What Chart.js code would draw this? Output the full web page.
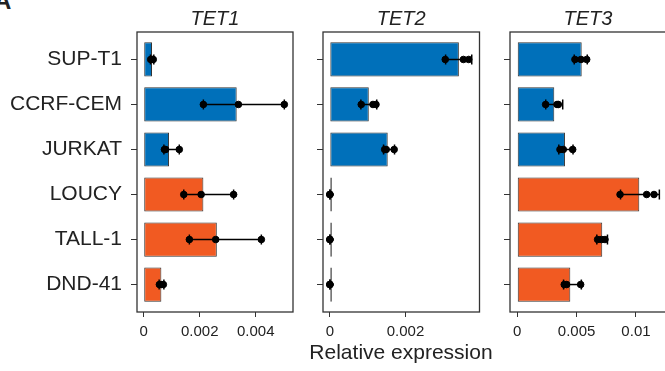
<!DOCTYPE html>
<html>
<head>
<meta charset="utf-8">
<script src="https://cdn.jsdelivr.net/npm/chart.js@4.4.1/dist/chart.umd.min.js"></script>
<style>
  html, body { margin: 0; padding: 0; background: #fff; }
  body { width: 665px; height: 371px; position: relative; overflow: hidden; }
  canvas { position: absolute; top: 0; }
  #panelLetter { position: absolute; left: -6px; top: -11px; font: bold 24px/1 "Liberation Sans", Arial, sans-serif; color: #222; }
  #xTitle { position: absolute; left: 251px; width: 300px; top: 341px; text-align: center; font: 21px/21px "Liberation Sans", Arial, sans-serif; color: #222; }
</style>
</head>
<body>
<div id="panelLetter">A</div>
<canvas id="tet1" width="300" height="371" style="left:0px"></canvas>
<canvas id="tet2" width="186" height="371" style="left:300px"></canvas>
<canvas id="tet3" width="190" height="371" style="left:486px"></canvas>
<div id="xTitle">Relative expression</div>
<script>
// cell lines, top to bottom
const cellLines = ['SUP-T1', 'CCRF-CEM', 'JURKAT', 'LOUCY', 'TALL-1', 'DND-41'];
const lineGroup = [0, 0, 0, 1, 1, 1];

// TET1 relative expression
const tet1Mean = [0.000296, 0.00332, 0.000904, 0.00213, 0.00261, 0.00063];
const tet1Lo = [0.00024, 0.00213, 0.00072, 0.00143, 0.00163, 0.00055];
const tet1Hi = [0.00036, 0.00502, 0.00127, 0.00321, 0.0042, 0.00072];
const tet1Reps = [[0.00025, 0.0003, 0.00034], [0.00213, 0.00338, 0.00502], [0.00074, 0.00078, 0.00127],
                  [0.00143, 0.00205, 0.00321], [0.00163, 0.00257, 0.0042], [0.00056, 0.00062, 0.0007]];
const tet1Ticks = [0, 0.002, 0.004];

// TET2
const tet2Mean = [0.00341, 0.00103, 0.00153, 0.000003, 0.000003, 0.000003];
const tet2Lo = [0.00306, 0.00082, 0.00142, 0, 0, 0];
const tet2Hi = [0.00375, 0.00124, 0.00171, 0.000006, 0.000006, 0.000006];
const tet2Reps = [[0.00305, 0.00353, 0.00367], [0.00083, 0.00114, 0.00122], [0.00145, 0.00149, 0.0017],
                  [0.000002, 0.000003, 0.000004], [0.000002, 0.000003, 0.000004], [0.000002, 0.000003, 0.000004]];
const tet2Ticks = [0, 0.002];

// TET3
const tet3Mean = [0.00543, 0.00312, 0.00402, 0.01028, 0.00716, 0.00447];
const tet3Lo = [0.0048, 0.0024, 0.0035, 0.0087, 0.0067, 0.0039];
const tet3Hi = [0.0059, 0.00383, 0.0047, 0.01197, 0.0076, 0.0054];
const tet3Reps = [[0.00486, 0.00537, 0.00585], [0.00239, 0.00335, 0.00346], [0.0036, 0.00388, 0.00467],
                  [0.00866, 0.0109, 0.01152], [0.00677, 0.0071, 0.00739], [0.00396, 0.00416, 0.00534]];
const tet3Ticks = [0, 0.005, 0.01];

const groupColors = ['#0070BA', '#F15A22'];
const ink = '#222';
Chart.defaults.font.family = '"Liberation Sans", Arial, sans-serif';
Chart.defaults.color = ink;

// frame round the panel + italic gene name above it
const panelFrame = {
  id: 'panelFrame',
  afterDatasetsDraw(chart, args, opts) {
    const { ctx, chartArea: a } = chart;
    ctx.save();
    ctx.strokeStyle = '#333';
    ctx.lineWidth = 1.3;
    ctx.strokeRect(a.left, a.top, a.right - a.left, a.bottom - a.top);
    ctx.font = 'italic 20px "Liberation Sans", Arial, sans-serif';
    ctx.fillStyle = ink;
    ctx.textAlign = 'center';
    ctx.textBaseline = 'alphabetic';
    ctx.fillText(opts.title, (a.left + a.right) / 2, a.top - 7);
    ctx.restore();
  }
};

function makePanel(id, gene, mean, lo, hi, reps, ticks, xMin, xMax, yWidth, padRight, showLabels) {
  const datasets = [];
  datasets.push({
    type: 'bar',
    data: mean.map((v, i) => ({ x: v, y: i })),
    backgroundColor: lineGroup.map(g => groupColors[g]),
    borderColor: '#333',
    borderWidth: 1,
    borderSkipped: false,
    minBarLength: 2,
    categoryPercentage: 1,
    barPercentage: 0.76,
    order: 2
  });
  cellLines.forEach((c, i) => {
    datasets.push({
      type: 'line',
      data: [{ x: lo[i], y: i }, { x: hi[i], y: i }],
      borderColor: '#000',
      borderWidth: 1.5,
      pointStyle: 'line',
      rotation: 90,
      pointRadius: 5,
      pointBorderWidth: 1.5,
      pointBorderColor: '#000',
      order: 1
    });
  });
  datasets.push({
    type: 'scatter',
    data: reps.flatMap((r, i) => r.map(v => ({ x: v, y: i }))),
    backgroundColor: '#000',
    borderColor: '#000',
    pointRadius: 3.3,
    order: 0
  });

  return new Chart(document.getElementById(id), {
    type: 'bar',
    data: { datasets },
    plugins: [panelFrame],
    options: {
      indexAxis: 'y',
      responsive: false,
      animation: false,
      layout: { padding: { top: 32, right: padRight, left: 0, bottom: 0 } },
      plugins: {
        legend: { display: false },
        tooltip: { enabled: false },
        panelFrame: { title: gene }
      },
      scales: {
        x: {
          type: 'linear',
          min: xMin,
          max: xMax,
          afterBuildTicks: s => { s.ticks = ticks.map(v => ({ value: v })); },
          afterFit: s => { s.height = 59; },
          ticks: {
            font: { size: 15 },
            color: ink,
            padding: 6,
            maxRotation: 0,
            callback: v => String(+v.toFixed(6))
          },
          grid: { drawOnChartArea: false, drawTicks: true, tickLength: 5, color: '#333' },
          border: { display: false }
        },
        y: {
          type: 'linear',
          reverse: true,
          offset: false,
          min: -0.61,
          max: 5.61,
          afterBuildTicks: s => { s.ticks = cellLines.map((c, i) => ({ value: i })); },
          afterFit: s => { s.width = yWidth; },
          ticks: {
            font: { size: 21 },
            color: ink,
            padding: 9,
            callback: v => showLabels ? cellLines[v] : ''
          },
          grid: { offset: false, drawOnChartArea: false, drawTicks: true, tickLength: 6, color: '#333' },
          border: { display: false }
        }
      }
    }
  });
}

makePanel('tet1', 'TET1', tet1Mean, tet1Lo, tet1Hi, tet1Reps, tet1Ticks, -0.00024, 0.00533, 137, 7, true);
makePanel('tet2', 'TET2', tet2Mean, tet2Lo, tet2Hi, tet2Reps, tet2Ticks, -0.00018, 0.003955, 23, 6, false);
makePanel('tet3', 'TET3', tet3Mean, tet3Lo, tet3Hi, tet3Reps, tet3Ticks, -0.00061, 0.01253, 24, 10, false);
</script>
</body>
</html>
